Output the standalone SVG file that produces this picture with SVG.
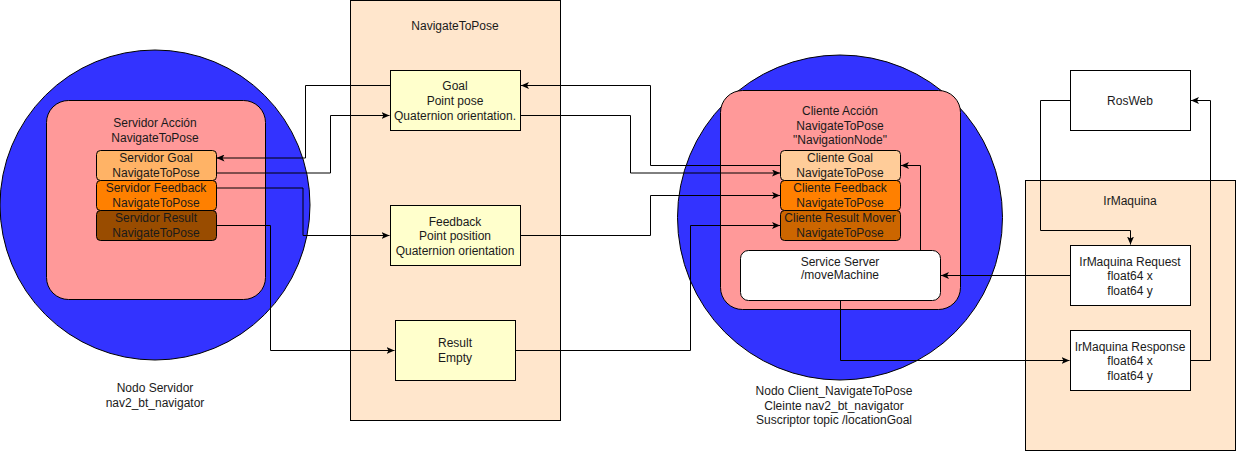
<svg xmlns="http://www.w3.org/2000/svg" width="1236" height="451" viewBox="0 0 1236 451">
<defs>
<style>
text{font-family:"Liberation Sans",Arial,sans-serif;font-size:12px;fill:#1a1a1a;text-anchor:middle}
.s{stroke:#000;stroke-width:1}
.e{fill:none;stroke:#000;stroke-width:1;marker-end:url(#arr)}
</style>
<marker id="arr" viewBox="0 0 8 7" markerUnits="userSpaceOnUse" markerWidth="8" markerHeight="7" refX="8" refY="3.5" orient="auto">
<path d="M0,0 L8,3.5 L0,7 L2,3.5 Z" fill="#000"/>
</marker>
</defs>
<rect width="1236" height="451" fill="#fff"/>

<g id="nav-container">
<rect class="s" x="350.5" y="0.5" width="210" height="420" fill="#FFE6CC"/>
<text x="455" y="29.5">NavigateToPose</text>
</g>
<g id="irmaquina-container">
<rect class="s" x="1025.5" y="180.5" width="210" height="270" fill="#FFE6CC"/>
<text x="1130" y="204.5">IrMaquina</text>
</g>

<g id="nodo-servidor">
<circle class="s" cx="155" cy="205" r="155" fill="#3333FF"/>
<text x="155" y="392">Nodo Servidor</text>
<text x="155" y="407">nav2_bt_navigator</text>
</g>
<g id="servidor-accion">
<rect class="s" x="46.5" y="100.5" width="219" height="199" rx="22" fill="#FF9999"/>
<text x="155" y="127">Servidor Acción</text>
<text x="155" y="142">NavigateToPose</text>
</g>

<g id="nodo-cliente">
<circle class="s" cx="840" cy="217.5" r="162.5" fill="#3333FF"/>
<text x="834" y="394.5">Nodo Client_NavigateToPose</text>
<text x="834" y="409.5">Cleinte nav2_bt_navigator</text>
<text x="834" y="424">Suscriptor topic /locationGoal</text>
</g>
<g id="cliente-accion">
<rect class="s" x="720.5" y="90.5" width="240" height="219" rx="22" fill="#FF9999"/>
<text x="840" y="115">Cliente Acción</text>
<text x="840" y="129.5">NavigateToPose</text>
<text x="840" y="144">"NavigationNode"</text>
</g>

<g id="connectors">
<path class="e" d="M390.5,85.5 H305.5 V158 H216.5"/>
<path class="e" d="M216,173 H330.5 V115.5 H389.5"/>
<path class="e" d="M216,188 H303 V235.5 H389.5"/>
<path class="e" d="M216,225.5 H270.5 V350.5 H394.5"/>
<path class="e" d="M780.5,165.5 H650.5 V85.5 H521"/>
<path class="e" d="M520.5,115.5 H630.5 V173 H780"/>
<path class="e" d="M520.5,235.5 H650.5 V195.5 H780"/>
<path class="e" d="M515.5,350.5 H690.5 V225.5 H780"/>
<path class="e" d="M920.5,250.5 V165.5 H901"/>
<path class="e" d="M1070.5,275.5 H941"/>
<path class="e" d="M840.5,300.5 V360.5 H1069.5"/>
<path class="e" d="M1070.5,100.5 H1040.5 V230.5 H1130.5 V244.5"/>
<path class="e" d="M1190.5,360.5 H1210.5 V100.5 H1191"/>
</g>

<g id="servidor-goal">
<rect class="s" x="96.5" y="150.5" width="120" height="30" rx="4" fill="#FFB366"/>
<text x="156" y="162">Servidor Goal</text>
<text x="156" y="177">NavigateToPose</text>
</g>
<g id="servidor-feedback">
<rect class="s" x="96.5" y="180.5" width="120" height="30" rx="4" fill="#FF8000"/>
<text x="156" y="192">Servidor Feedback</text>
<text x="156" y="207">NavigateToPose</text>
</g>
<g id="servidor-result">
<rect class="s" x="96.5" y="210.5" width="120" height="30" rx="4" fill="#994C00"/>
<text x="156" y="221.5">Servidor Result</text>
<text x="156" y="236.5">NavigateToPose</text>
</g>

<g id="cliente-goal">
<rect class="s" x="780.5" y="150.5" width="120" height="30" rx="4" fill="#FFCC99"/>
<text x="840" y="162">Cliente Goal</text>
<text x="840" y="177">NavigateToPose</text>
</g>
<g id="cliente-feedback">
<rect class="s" x="780.5" y="180.5" width="120" height="30" rx="4" fill="#FF8000"/>
<text x="840" y="192">Cliente Feedback</text>
<text x="840" y="207">NavigateToPose</text>
</g>
<g id="cliente-result">
<rect class="s" x="780.5" y="210.5" width="120" height="30" rx="4" fill="#CC6600"/>
<text x="840" y="221.5">Cliente Result Mover</text>
<text x="840" y="236.5">NavigateToPose</text>
</g>
<g id="service-server">
<rect class="s" x="740.5" y="250.5" width="200" height="50" rx="8" fill="#FFFFFF"/>
<text x="840" y="265.5">Service Server</text>
<text x="840" y="278.5">/moveMachine</text>
</g>

<g id="goal">
<rect class="s" x="390.5" y="70.5" width="130" height="60" fill="#FFFFCC"/>
<text x="455" y="90">Goal</text>
<text x="455" y="104.5">Point pose</text>
<text x="455" y="119.5">Quaternion orientation.</text>
</g>
<g id="feedback">
<rect class="s" x="390.5" y="205.5" width="130" height="60" fill="#FFFFCC"/>
<text x="455" y="225.5">Feedback</text>
<text x="455" y="239.5">Point position</text>
<text x="455" y="254.5">Quaternion orientation</text>
</g>
<g id="result">
<rect class="s" x="395.5" y="320.5" width="120" height="60" fill="#FFFFCC"/>
<text x="455" y="347">Result</text>
<text x="455" y="362">Empty</text>
</g>

<g id="rosweb">
<rect class="s" x="1070.5" y="70.5" width="120" height="60" fill="#FFFFFF"/>
<text x="1130" y="104.5">RosWeb</text>
</g>
<g id="irmaquina-request">
<rect class="s" x="1070.5" y="245.5" width="120" height="60" fill="#FFFFFF"/>
<text x="1130" y="265.5">IrMaquina Request</text>
<text x="1130" y="279.5">float64 x</text>
<text x="1130" y="294.5">float64 y</text>
</g>
<g id="irmaquina-response">
<rect class="s" x="1070.5" y="330.5" width="120" height="60" fill="#FFFFFF"/>
<text x="1130" y="350.5">IrMaquina Response</text>
<text x="1130" y="364.5">float64 x</text>
<text x="1130" y="379.5">float64 y</text>
</g>
</svg>
